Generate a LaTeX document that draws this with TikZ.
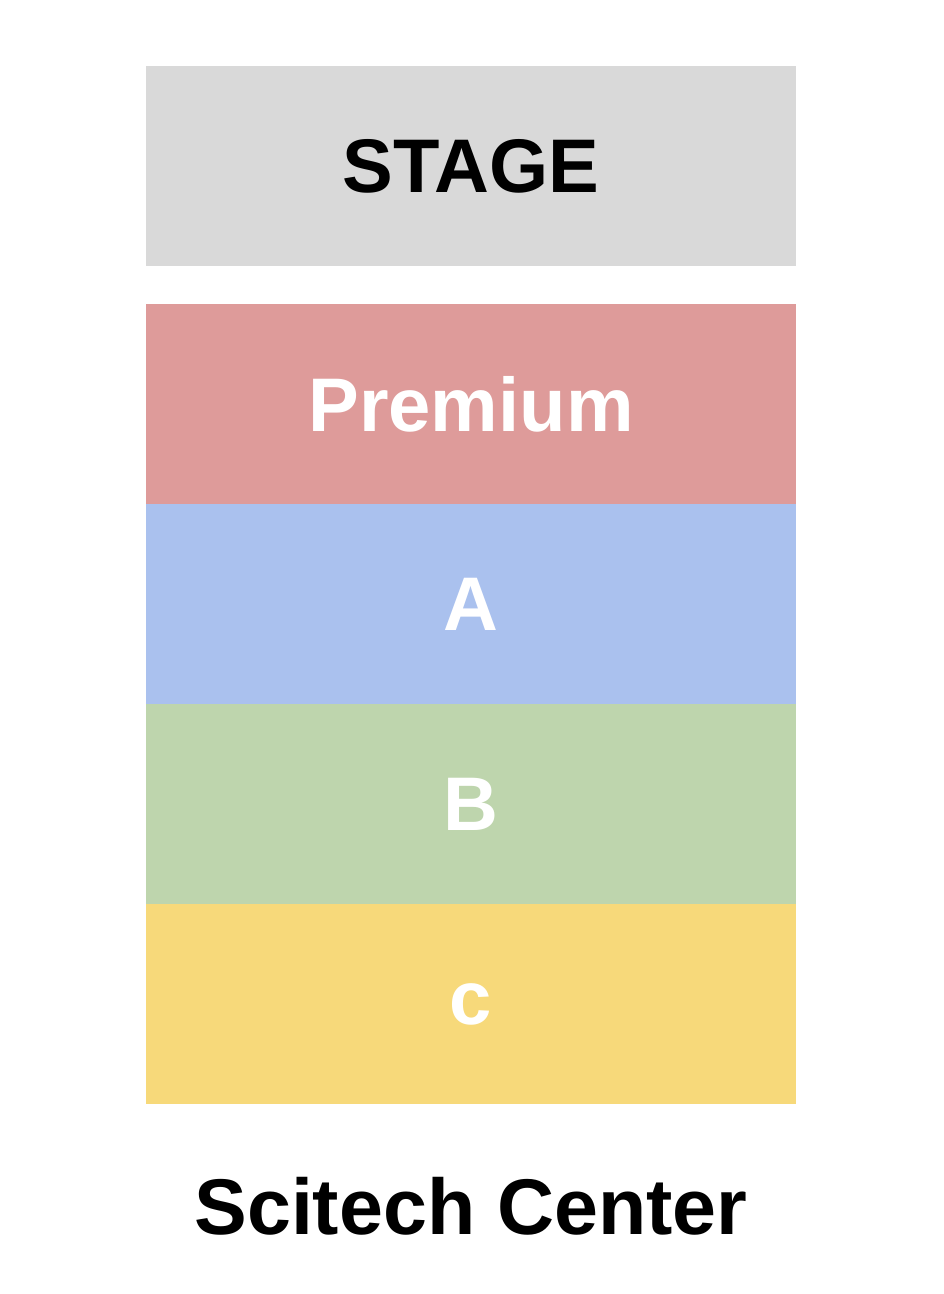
\documentclass[tikz,border=0pt]{standalone}
\usepackage{fontspec}
\setmainfont{Liberation Sans}
\definecolor{stagegray}{HTML}{D9D9D9}
\definecolor{premred}{HTML}{DE9B9A}
\definecolor{seatblue}{HTML}{AAC1EE}
\definecolor{seatgreen}{HTML}{BED5AD}
\definecolor{seatyellow}{HTML}{F7D97A}
\begin{document}
\begin{tikzpicture}[x=1pt,y=-1pt]
      \tikzstyle{block}=[minimum width=650pt,minimum height=200pt,inner sep=0pt,
        font=\fontsize{76}{90}\selectfont\bfseries,text=white]
      \useasboundingbox (0,0) rectangle (944,1294);
      \node[block,fill=stagegray,text=black] (stage) at (471,166) {STAGE};
      \node[block,fill=premred] (premium) at (471,404) {Premium};
      \node[block,fill=seatblue] (secA) at (471,604) {A};
      \node[block,fill=seatgreen] (secB) at (471,804) {B};
      \node[block,fill=seatyellow] (secC) at (471,1004) {c};
      \node[font=\fontsize{79}{94}\selectfont\bfseries] (venue) at (471,1206) {Scitech Center};
    \end{tikzpicture}
\end{document}
